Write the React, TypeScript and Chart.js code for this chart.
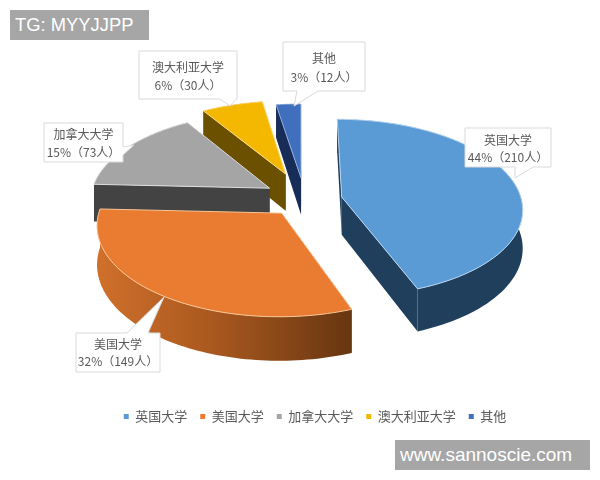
import React, { useEffect, useRef } from "react";
import { Chart, registerables } from "chart.js";

Chart.register(...registerables);

const categories = ["英国大学", "美国大学", "加拿大大学", "澳大利亚大学", "其他"];
const counts = [210, 149, 73, 30, 12];
const percents = [44, 32, 15, 6, 3];

const FONT = '"Noto Sans CJK SC", "Noto Sans", sans-serif';
const topColors = ["#5b9bd5", "#e97c30", "#a5a5a5", "#f5b800", "#4070bd"];
const sideColors = ["#1f3f5c", "#a9581f", "#434343", "#6b5000", "#182c58"];
const edgeColors = ["#b5d6f2", "#f8c596", "#dedede", "#ffdf8a", "#93b0e0"];
const explodeX = [0.233, -0.1, -0.172, -0.083, 0.006];
const explodeY = [-0.045, 0.136, -0.148, -0.318, -0.27];
const drawOrder = [4, 3, 2, 0, 1];
const CAM = { cx: 300, cy: 201, R: 180, A: 88, p: 0.12, D: 38 };

type Box = { x: number; y: number; w: number; h: number; side: string; a: number; b: number; tx: number; ty: number; l1: number; l2: number };
const boxes: Box[] = [
  { x: 465, y: 128, w: 86, h: 39, side: "bottom", a: 515, b: 533, tx: 515, ty: 178, l1: 140, l2: 157 },
  { x: 76, y: 333, w: 84, h: 39, side: "top", a: 127, b: 148, tx: 164, ty: 297, l1: 344, l2: 361 },
  { x: 44, y: 123, w: 79, h: 39, side: "right", a: 147, b: 155, tx: 134, ty: 145, l1: 134, l2: 152 },
  { x: 139, y: 51, w: 98, h: 48, side: "bottom", a: 220, b: 236, tx: 230, ty: 106, l1: 67, l2: 85 },
  { x: 283, y: 42, w: 82, h: 49, side: "bottom", a: 297, b: 318, tx: 294, ty: 106, l1: 58, l2: 77 },
];

function project(i: number, angle: number, r: number, depth: number) {
  const X = explodeX[i] + r * Math.cos(angle);
  const Y = explodeY[i] + r * Math.sin(angle);
  const s = 1 / (1 - CAM.p * Y);
  return {
    x: CAM.cx + CAM.R * X * s,
    y: CAM.cy + CAM.A * Y * s + CAM.D * s * depth,
  };
}

function poly(ctx: CanvasRenderingContext2D, pts: { x: number; y: number }[]) {
  ctx.beginPath();
  pts.forEach((p, k) => (k ? ctx.lineTo(p.x, p.y) : ctx.moveTo(p.x, p.y)));
  ctx.closePath();
}

const pie3d = {
  id: "pie3d",
  beforeDatasetsDraw(chart: any) {
    const ctx: CanvasRenderingContext2D = chart.ctx;
    const arcs = chart.getDatasetMeta(0).data;
    ctx.save();
    ctx.lineJoin = "round";
    for (const i of drawOrder) {
      const { startAngle, endAngle } = arcs[i];
      const n = 80;
      const top: { x: number; y: number }[] = [];
      const bot: { x: number; y: number }[] = [];
      for (let k = 0; k <= n; k++) {
        const a = startAngle + ((endAngle - startAngle) * k) / n;
        top.push(project(i, a, 1, 0));
        bot.push(project(i, a, 1, 1));
      }
      const apexT = project(i, 0, 0, 0);
      const apexB = project(i, 0, 0, 1);

      ctx.fillStyle = sideColors[i];
      poly(ctx, [apexT, top[0], bot[0], apexB]);
      ctx.fill();
      poly(ctx, [apexT, top[n], bot[n], apexB]);
      ctx.fill();

      let side: any = sideColors[i];
      if (i === 1) {
        const g = ctx.createLinearGradient(100, 0, 352, 0);
        g.addColorStop(0, "#cf6f2b");
        g.addColorStop(0.45, "#a9581f");
        g.addColorStop(1, "#673611");
        side = g;
      }
      ctx.fillStyle = side;
      poly(ctx, [...top, ...bot.slice().reverse()]);
      ctx.fill();

      poly(ctx, [apexT, ...top]);
      ctx.fillStyle = topColors[i];
      ctx.fill();
      ctx.strokeStyle = edgeColors[i];
      ctx.lineWidth = 1;
      ctx.stroke();
    }
    ctx.restore();
    return false;
  },
  afterDraw(chart: any) {
    drawCallouts(chart.ctx);
  },
};

function drawCallouts(ctx: CanvasRenderingContext2D) {
  ctx.save();
  boxes.forEach((b, i) => {
    const r = b.x + b.w;
    const d = b.y + b.h;
    ctx.beginPath();
    ctx.moveTo(b.x, b.y);
    if (b.side === "top") {
      ctx.lineTo(b.a, b.y);
      ctx.lineTo(b.tx, b.ty);
      ctx.lineTo(b.b, b.y);
    }
    ctx.lineTo(r, b.y);
    if (b.side === "right") {
      ctx.lineTo(r, b.a);
      ctx.lineTo(b.tx, b.ty);
      ctx.lineTo(r, b.b);
    }
    ctx.lineTo(r, d);
    if (b.side === "bottom") {
      ctx.lineTo(b.b, d);
      ctx.lineTo(b.tx, b.ty);
      ctx.lineTo(b.a, d);
    }
    ctx.lineTo(b.x, d);
    ctx.closePath();
    ctx.fillStyle = "#ffffff";
    ctx.fill();
    ctx.strokeStyle = "#d9d9d9";
    ctx.lineWidth = 1;
    ctx.stroke();
    ctx.fillStyle = "#595959";
    ctx.font = `12px ${FONT}`;
    ctx.textAlign = "center";
    ctx.textBaseline = "middle";
    const mid = b.x + b.w / 2;
    ctx.fillText(categories[i], mid, b.l1);
    ctx.fillText(`${percents[i]}%（${counts[i]}人）`, mid, b.l2);
  });
  ctx.restore();
}

const tagStyle = (left: number, top: number, width: number, size: number): React.CSSProperties => ({
  position: "absolute",
  left,
  top,
  width,
  height: 30,
  lineHeight: "30px",
  background: "#a6a6a6",
  color: "#ffffff",
  fontFamily: '"Liberation Sans", Arial, sans-serif',
  fontSize: size,
  paddingLeft: 5,
  boxSizing: "border-box",
  whiteSpace: "nowrap",
});

export default function App() {
  const ref = useRef<HTMLCanvasElement>(null);
  useEffect(() => {
    const chart = new Chart(ref.current!, {
      type: "pie",
      data: {
        labels: categories,
        datasets: [{ data: counts, backgroundColor: topColors, borderWidth: 0 }],
      },
      options: {
        responsive: false,
        animation: false,
        layout: { padding: { bottom: 47, left: 30 } },
        plugins: {
          tooltip: { enabled: false },
          legend: {
            position: "bottom",
            labels: {
              usePointStyle: true,
              pointStyle: "rect",
              boxWidth: 5,
              boxHeight: 5,
              padding: 13,
              color: "#595959",
              font: { family: FONT, size: 13 },
            },
          },
        },
      },
      plugins: [pie3d],
    } as any);
    return () => chart.destroy();
  }, []);
  return (
    <div style={{ position: "absolute", left: 0, top: 0, width: 600, height: 480, background: "#fff", overflow: "hidden" }}>
      <canvas ref={ref} width={600} height={480} style={{ display: "block", filter: "blur(0.4px)" }} />
      <div style={tagStyle(10, 10, 139, 18.4)}>TG: MYYJJPP</div>
      <div style={tagStyle(395, 440, 195, 19)}>www.sannoscie.com</div>
    </div>
  );
}
